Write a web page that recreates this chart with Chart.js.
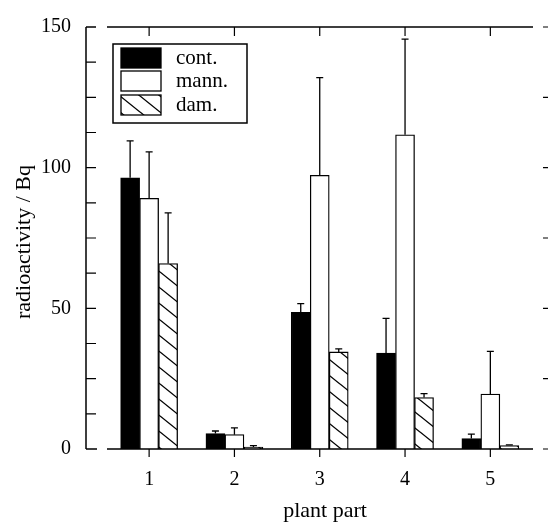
<!DOCTYPE html>
<html>
<head>
<meta charset="utf-8">
<script src="https://cdn.jsdelivr.net/npm/chart.js@4"></script>
<style>
  html, body { margin: 0; padding: 0; background: #fff; }
  #wrap { width: 549px; height: 522px; }
</style>
</head>
<body>
<div id="wrap"><canvas id="chart" width="549" height="522"></canvas></div>
<script>
// plant parts on the x axis
var parts = [1, 2, 3, 4, 5];
var xTicks = [1, 2, 3, 4, 5];
var yLabelTicks = [0, 50, 100, 150];

// mean radioactivity (Bq) and the SD shown as upward error bars
var cont = [96.4, 5.5, 48.6, 34.1, 3.7];
var contSD = [13.1, 0.9, 3.1, 12.3, 1.6];
var mann = [89.1, 5.1, 97.3, 111.7, 19.5];
var mannSD = [16.5, 2.4, 34.7, 34.0, 15.2];
var dam = [65.9, 0.7, 34.5, 18.3, 1.2];
var damSD = [18.0, 0.5, 1.1, 1.4, 0.3];

var FONT = '"Liberation Serif", "Times New Roman", serif';

function hatch() {
  var c = document.createElement('canvas');
  c.width = 20; c.height = 16;
  var g = c.getContext('2d');
  g.fillStyle = '#fff';
  g.fillRect(0, 0, 20, 16);
  g.strokeStyle = '#000';
  g.lineWidth = 1.3;
  [-16, 0, 16].forEach(function(o) {
    g.beginPath();
    g.moveTo(-2, o - 1.6);
    g.lineTo(22, o + 17.6);
    g.stroke();
  });
  return g.createPattern(c, 'repeat');
}
var hatchFill = hatch();

function pts(vals) {
  return parts.map(function(p, i) { return { x: p, y: vals[i] }; });
}

var sds = [contSD, mannSD, damSD];

// error bars, inward ticks, frame, titles and legend box
var extras = {
  id: 'extras',
  afterDatasetsDraw: function(chart) {
    var ctx = chart.ctx, ys = chart.scales.y, xs = chart.scales.x;
    ctx.save();
    ctx.strokeStyle = '#000';
    ctx.lineWidth = 1.3;
    chart.data.datasets.forEach(function(ds, di) {
      var meta = chart.getDatasetMeta(di);
      meta.data.forEach(function(bar, i) {
        var top = ys.getPixelForValue(ds.data[i].y + sds[di][i]);
        ctx.beginPath();
        ctx.moveTo(bar.x, bar.y);
        ctx.lineTo(bar.x, top);
        ctx.moveTo(bar.x - 3.5, top);
        ctx.lineTo(bar.x + 3.5, top);
        ctx.stroke();
      });
    });

    var L = chart.chartArea.left, R = chart.chartArea.right;
    var T = chart.chartArea.top, B = chart.chartArea.bottom;
    ctx.lineWidth = 1.5;
    ctx.beginPath();
    ctx.moveTo(L, T); ctx.lineTo(L, B);
    ctx.moveTo(L, B); ctx.lineTo(L + 11, B);
    ctx.moveTo(L + 21, B); ctx.lineTo(R, B);
    ctx.moveTo(L, T); ctx.lineTo(L + 10, T);
    ctx.moveTo(L + 21, T); ctx.lineTo(R, T);
    ctx.stroke();

    ctx.lineWidth = 1.2;
    ctx.beginPath();
    for (var v = 12.5; v < 150; v += 12.5) {
      var py = ys.getPixelForValue(v);
      ctx.moveTo(L, py); ctx.lineTo(L + 10, py);
    }
    for (var w = 0; w <= 150; w += 25) {
      var ry = ys.getPixelForValue(w);
      ctx.moveTo(R + 10, ry); ctx.lineTo(R + 15, ry);
    }
    xTicks.forEach(function(t) {
      var px = xs.getPixelForValue(t);
      ctx.moveTo(px, T); ctx.lineTo(px, T + 9);
      ctx.moveTo(px, B); ctx.lineTo(px, B + 8);
    });
    ctx.stroke();

    ctx.fillStyle = '#000';
    ctx.font = '22px ' + FONT;
    ctx.textAlign = 'center';
    ctx.textBaseline = 'middle';
    ctx.fillText('plant part', 325, 511);
    ctx.save();
    ctx.translate(24, 242);
    ctx.rotate(-Math.PI / 2);
    ctx.fillText('radioactivity / Bq', 0, 0);
    ctx.restore();

    // legend
    ctx.lineWidth = 1.5;
    ctx.strokeRect(113, 44, 134, 79);
    var items = [['cont.', '#000', 48], ['mann.', '#fff', 71], ['dam.', hatchFill, 95]];
    ctx.font = '21px ' + FONT;
    ctx.textAlign = 'left';
    items.forEach(function(it) {
      ctx.fillStyle = it[1];
      ctx.fillRect(121, it[2], 40, 20);
      ctx.lineWidth = 1.3;
      ctx.strokeRect(121, it[2], 40, 20);
      ctx.fillStyle = '#000';
      ctx.fillText(it[0], 176, it[2] + 10);
    });
    ctx.restore();
  }
};

new Chart(document.getElementById('chart'), {
  type: 'bar',
  data: {
    datasets: [
      { label: 'cont.', data: pts(cont), backgroundColor: '#000' },
      { label: 'mann.', data: pts(mann), backgroundColor: '#fff' },
      { label: 'dam.', data: pts(dam), backgroundColor: hatchFill }
    ]
  },
  options: {
    responsive: false,
    animation: false,
    layout: { padding: { top: 23, right: 16, left: 0, bottom: 0 } },
    datasets: {
      bar: { barThickness: 19, borderColor: '#000', borderWidth: 1.3, borderSkipped: 'bottom' }
    },
    plugins: { legend: { display: false }, tooltip: { enabled: false } },
    scales: {
      x: {
        type: 'linear',
        offset: false,
        min: 0.26,
        max: 5.5,
        grid: { display: false, drawTicks: false, offset: false },
        border: { display: false },
        afterBuildTicks: function(s) { s.ticks = xTicks.map(function(v) { return { value: v }; }); },
        afterFit: function(s) { s.height = 73; },
        ticks: { color: '#000', padding: 19, font: { family: FONT, size: 20 } }
      },
      y: {
        min: 0,
        max: 150,
        grid: { display: false, drawTicks: false },
        border: { display: false },
        afterBuildTicks: function(s) { s.ticks = yLabelTicks.map(function(v) { return { value: v }; }); },
        afterFit: function(s) { s.width = 86; },
        ticks: { color: '#000', padding: 15, font: { family: FONT, size: 20 } }
      }
    }
  },
  plugins: [extras]
});
</script>
</body>
</html>
